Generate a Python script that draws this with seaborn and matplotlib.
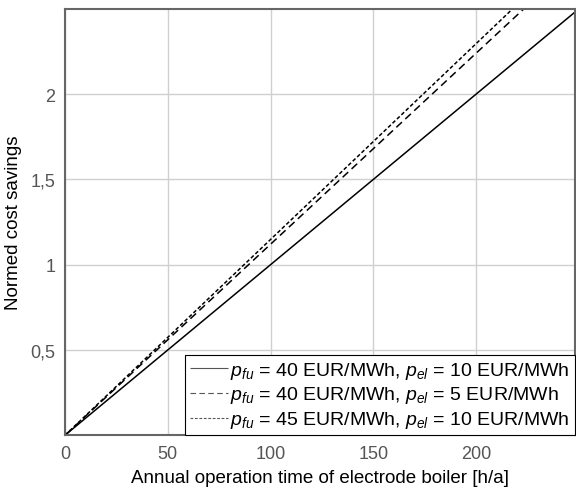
import pandas as pd
import seaborn as sns
import matplotlib.pyplot as plt
from matplotlib.ticker import FuncFormatter

# Annual operation time [h/a] and normed cost savings at the line ends
hours = [0, 250]
savings_40_10 = [0, 2.50]
savings_40_5 = [0, 2.80]
savings_45_10 = [0, 2.87]

labels = [
    r"$p_{fu}$ = 40 EUR/MWh, $p_{el}$ = 10 EUR/MWh",
    r"$p_{fu}$ = 40 EUR/MWh, $p_{el}$ = 5 EUR/MWh",
    r"$p_{fu}$ = 45 EUR/MWh, $p_{el}$ = 10 EUR/MWh",
]

sns.set_style("whitegrid")
plt.rcParams["font.family"] = ["Liberation Sans", "DejaVu Sans"]
plt.rcParams["mathtext.fontset"] = "custom"
plt.rcParams["mathtext.rm"] = "Liberation Sans"
plt.rcParams["mathtext.it"] = "Liberation Sans:italic"

fig, ax = plt.subplots(figsize=(5.76, 4.89), dpi=100)
fig.subplots_adjust(left=0.113, right=0.998, top=0.98, bottom=0.108)

styles = [(0, ()), (0, (5, 3)), (0, (2.5, 1.5))]
for y, lab, ls in zip([savings_40_10, savings_40_5, savings_45_10], labels, styles):
    sns.lineplot(x=hours, y=y, ax=ax, color="black", linewidth=1.1,
                 linestyle=ls, label=lab)

ax.set_xlim(0, 248)
ax.set_ylim(0, 2.5)
ax.set_xticks([0, 50, 100, 150, 200])
ax.set_yticks([0.5, 1, 1.5, 2])
ax.yaxis.set_major_formatter(FuncFormatter(lambda v, p: f"{v:g}".replace(".", ",")))
ax.tick_params(axis="both", labelsize=13, labelcolor="#555555", length=0, pad=7)
ax.grid(color="#d0d0d0", linewidth=1)
for s in ax.spines.values():
    s.set_color("#666666")
    s.set_linewidth(1.5)

ax.set_xlabel("Annual operation time of electrode boiler [h/a]", fontsize=13.5,
              color="black", labelpad=5)
ax.set_ylabel("Normed cost savings", fontsize=13.5, color="black", labelpad=6)

leg = ax.legend(loc="lower right", fontsize=14, frameon=True, fancybox=False,
                framealpha=1, edgecolor="black", borderaxespad=0,
                handlelength=2.0, handletextpad=0.1, borderpad=0.25,
                labelspacing=0.2)
leg.get_frame().set_linewidth(0.8)
for text in leg.get_texts():
    text.set_color("black")
for line in leg.get_lines():
    line.set_linewidth(0.8)
    line.set_color("#555555")

plt.savefig("out.png", dpi=100)
